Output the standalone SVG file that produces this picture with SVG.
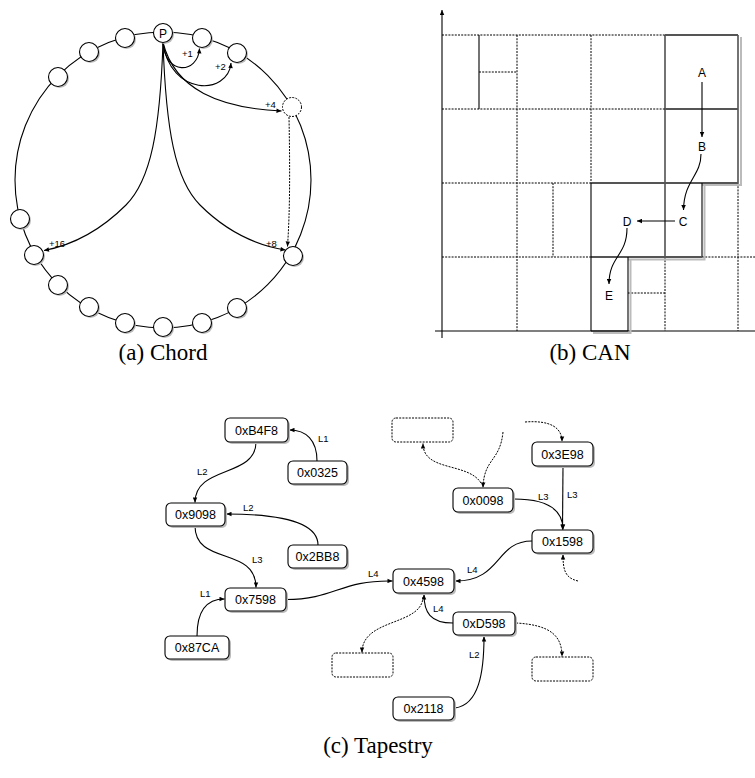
<svg xmlns="http://www.w3.org/2000/svg" width="755" height="778" viewBox="0 0 755 778">
<defs>
<marker id="ah" viewBox="0 0 10 10" refX="10" refY="5" markerWidth="6" markerHeight="5" orient="auto" markerUnits="userSpaceOnUse"><path d="M0,0.5 L10,5 L0,9.5 z" fill="#000"/></marker>
</defs>
<style>
.ring{fill:none;stroke:#000;stroke-width:1.1}
.cn circle.s{fill:#bbb;stroke:none}
.cn circle.f{fill:#fff;stroke:#000;stroke-width:1.1}
.cn circle.d{fill:#fff;stroke:#000;stroke-width:1;stroke-dasharray:2 1.2}
.e{fill:none;stroke:#000;stroke-width:1.1;marker-end:url(#ah)}
.ed{fill:none;stroke:#000;stroke-width:1;stroke-dasharray:2 1.2;marker-end:url(#ah)}
.dot{fill:none;stroke:#000;stroke-width:1;stroke-dasharray:2 1.2}
.sol{fill:none;stroke:#000;stroke-width:1.1}
.dk{fill:none;stroke:#555;stroke-width:1.8}
.sh{fill:none;stroke:#bbb;stroke-width:2}
.lbl{font-family:"Liberation Sans",Arial,sans-serif;font-size:9.5px;fill:#000}
.cl{font-family:"Liberation Sans",Arial,sans-serif;font-size:12px;fill:#000;text-anchor:middle}
.cap{font-family:"Liberation Serif","Times New Roman",serif;font-size:23px;fill:#000;text-anchor:middle}
.tn rect.s{fill:#bbb;stroke:none}
.tn rect.f{fill:#fff;stroke:#000;stroke-width:1.1}
.tn text{font-family:"Liberation Sans",Arial,sans-serif;font-size:12.5px;fill:#000;text-anchor:middle}
.db{fill:#fff;stroke:#000;stroke-width:1;stroke-dasharray:2 1.2}
</style>

<!-- (a) Chord -->
<g id="chord">
<circle class="ring" cx="163" cy="180" r="148"/>
<g id="chord-connectors">
<path class="e" d="M163,42.5 C165,76 198,74 199.5,48.5"/>
<path class="e" d="M163,42.5 C170,96 228,96 231,63"/>
<path class="e" d="M163,42.5 C175,90 220,108 281.5,111"/>
<path class="e" d="M163,42.5 C166,130 175,180 200,205 C225,230 255,245 285.5,250"/>
<path class="e" d="M163,42.5 C160,130 151,180 126,205 C101,230 73,245 44,250.5"/>
<path class="ed" d="M289,117 C290,170 290,210 287.5,246.5"/>
</g>
<g id="n-P" class="cn"><circle class="s" cx="164.5" cy="34.5" r="9.5"/><circle class="f" cx="163" cy="33" r="9.5"/><text x="163" y="37.5" class="cl" style="font-size:12px">P</text></g>
<g id="n-r1" class="cn"><circle class="s" cx="203.5" cy="39.5" r="9.5"/><circle class="f" cx="202" cy="38" r="9.5"/></g>
<g id="n-r2" class="cn"><circle class="s" cx="238.5" cy="54.5" r="9.5"/><circle class="f" cx="237" cy="53" r="9.5"/></g>
<g id="n-r4" class="cn"><circle class="d" cx="292" cy="107" r="9.5"/></g>
<g id="n-r8" class="cn"><circle class="s" cx="294.5" cy="257.5" r="9.5"/><circle class="f" cx="293" cy="256" r="9.5"/></g>
<g id="n-b1" class="cn"><circle class="s" cx="238.5" cy="309.5" r="9.5"/><circle class="f" cx="237" cy="308" r="9.5"/></g>
<g id="n-b2" class="cn"><circle class="s" cx="203.5" cy="324.5" r="9.5"/><circle class="f" cx="202" cy="323" r="9.5"/></g>
<g id="n-b3" class="cn"><circle class="s" cx="164.5" cy="328.5" r="9.5"/><circle class="f" cx="163" cy="327" r="9.5"/></g>
<g id="n-b4" class="cn"><circle class="s" cx="126.5" cy="324.5" r="9.5"/><circle class="f" cx="125" cy="323" r="9.5"/></g>
<g id="n-b5" class="cn"><circle class="s" cx="90.5" cy="308.5" r="9.5"/><circle class="f" cx="89" cy="307" r="9.5"/></g>
<g id="n-b6" class="cn"><circle class="s" cx="59.5" cy="286.5" r="9.5"/><circle class="f" cx="58" cy="285" r="9.5"/></g>
<g id="n-l16" class="cn"><circle class="s" cx="35.5" cy="256.5" r="9.5"/><circle class="f" cx="34" cy="255" r="9.5"/></g>
<g id="n-l1" class="cn"><circle class="s" cx="21.5" cy="220.5" r="9.5"/><circle class="f" cx="20" cy="219" r="9.5"/></g>
<g id="n-t1" class="cn"><circle class="s" cx="59.5" cy="78.5" r="9.5"/><circle class="f" cx="58" cy="77" r="9.5"/></g>
<g id="n-t2" class="cn"><circle class="s" cx="90.5" cy="53.5" r="9.5"/><circle class="f" cx="89" cy="52" r="9.5"/></g>
<g id="n-t3" class="cn"><circle class="s" cx="126.5" cy="39.5" r="9.5"/><circle class="f" cx="125" cy="38" r="9.5"/></g>
<text class="lbl" x="182" y="57">+1</text>
<text class="lbl" x="215" y="70">+2</text>
<text class="lbl" x="265" y="108">+4</text>
<text class="lbl" x="266" y="247">+8</text>
<text class="lbl" x="49" y="247">+16</text>
</g>
<text class="cap" x="163" y="360">(a) Chord</text>

<!-- (b) CAN -->
<g id="can">
<line class="sol" x1="442" y1="338" x2="442" y2="10" marker-end="url(#ah)"/>
<line class="sol" x1="435" y1="331" x2="755" y2="331"/>
<g id="can-grid">
<line class="dot" x1="442" y1="35" x2="665" y2="35"/>
<line class="dot" x1="442" y1="109" x2="665" y2="109"/>
<line class="dot" x1="479" y1="72" x2="517" y2="72"/>
<line class="dot" x1="442" y1="183" x2="591" y2="183"/>
<line class="dot" x1="442" y1="257" x2="591" y2="257"/>
<line class="dot" x1="702" y1="257" x2="755" y2="257"/>
<line class="dot" x1="628" y1="293" x2="665" y2="293"/>
<line class="sol" x1="479" y1="35" x2="479" y2="109"/>
<line class="dot" x1="517" y1="35" x2="517" y2="331"/>
<line class="dot" x1="591" y1="35" x2="591" y2="183"/>
<line class="dot" x1="553" y1="183" x2="553" y2="257"/>
<line class="dot" x1="665" y1="257" x2="665" y2="331"/>
<line class="dot" x1="738" y1="183" x2="738" y2="331"/>
</g>
<g id="zone-AB">
<polyline class="sh" points="741,37 741,185 702,185"/>
<line class="sol" x1="665" y1="35" x2="665" y2="257"/>
<line class="sol" x1="738" y1="35" x2="738" y2="183"/>
<line class="dk" x1="665" y1="35" x2="738" y2="35"/>
<line class="dk" x1="665" y1="109" x2="738" y2="109"/>
</g>
<g id="zone-C">
<polyline class="sh" points="704.5,185 704.5,259.5 628,259.5"/>
<line class="dk" x1="591" y1="183" x2="738" y2="183"/>
<line class="sol" x1="702" y1="183" x2="702" y2="257"/>
<line class="dk" x1="591" y1="257" x2="702" y2="257"/>
</g>
<g id="zone-E">
<polyline class="sh" points="630.5,259 630.5,333 593,333"/>
<line class="sol" x1="591" y1="183" x2="591" y2="331"/>
<line class="sol" x1="628" y1="257" x2="628" y2="331"/>
<line class="sol" x1="591" y1="331" x2="628" y2="331"/>
</g>
<g id="can-connectors">
<path class="e" d="M702,82 L702,137"/>
<path class="e" d="M701,154 C701,176 684,180 683.5,210"/>
<path class="e" d="M675,221 L637,221"/>
<path class="e" d="M627,228 C627,256 609,256 609,284"/>
</g>
<text class="cl" x="702" y="77">A</text>
<text class="cl" x="702" y="151">B</text>
<text class="cl" x="683" y="226">C</text>
<text class="cl" x="627" y="226">D</text>
<text class="cl" x="609" y="300">E</text>
</g>
<text class="cap" x="590" y="360">(b) CAN</text>

<!-- (c) Tapestry -->
<g id="tapestry-connectors">
<path class="e" d="M317,461 C317,440 306,430 289.5,430"/>
<path class="e" d="M256,442 C256,478 195,465 195,502.5"/>
<path class="e" d="M318,545 C318,520 272,514 226.5,514"/>
<path class="e" d="M195,526 C195,566 256,546 256,587.5"/>
<path class="e" d="M197,636 C197,612 205,599 224.5,599"/>
<path class="e" d="M286,599.5 C335,599.5 340,580 392.5,581"/>
<path class="e" d="M532,541 C495,541 502,581 455.5,581"/>
<path class="e" d="M453,623 C430,623 424,612 424,594.5"/>
<path class="e" d="M455,708 C479,705 484,672 484,636.5"/>
<path class="e" d="M514,499 C548,499 563,510 563,529.5"/>
<path class="e" d="M563,466 L562.5,529.5"/>
<path class="ed" d="M503,432 C500,462 484,458 483,487.5"/>
<path class="ed" d="M481,483 C468,462 423,472 423,443.5"/>
<path class="ed" d="M525,422 C551,420 562,428 562,441.5"/>
<path class="ed" d="M578,581 C565,578 563,570 563,554.5"/>
<path class="ed" d="M423,597 C422,626 362,618 362,652.5"/>
<path class="ed" d="M516,623 C551,625 562,636 562,656.5"/>
</g>
<g id="t-B4F8" class="tn"><rect class="s" x="227" y="420" width="63" height="24" rx="5"/><rect class="f" x="225" y="418" width="63" height="24" rx="5"/><text x="256.5" y="434.5">0xB4F8</text></g>
<g id="t-0325" class="tn"><rect class="s" x="290" y="463" width="59" height="23" rx="5"/><rect class="f" x="288" y="461" width="59" height="23" rx="5"/><text x="317.5" y="477">0x0325</text></g>
<g id="t-9098" class="tn"><rect class="s" x="168" y="505" width="59" height="23" rx="5"/><rect class="f" x="166" y="503" width="59" height="23" rx="5"/><text x="195.5" y="519">0x9098</text></g>
<g id="t-2BB8" class="tn"><rect class="s" x="290" y="547" width="59" height="23" rx="5"/><rect class="f" x="288" y="545" width="59" height="23" rx="5"/><text x="317.5" y="561">0x2BB8</text></g>
<g id="t-7598" class="tn"><rect class="s" x="227" y="590" width="61" height="23" rx="5"/><rect class="f" x="225" y="588" width="61" height="23" rx="5"/><text x="255.5" y="604">0x7598</text></g>
<g id="t-87CA" class="tn"><rect class="s" x="167" y="638" width="64" height="23" rx="5"/><rect class="f" x="165" y="636" width="64" height="23" rx="5"/><text x="197" y="652">0x87CA</text></g>
<g id="t-3E98" class="tn"><rect class="s" x="534" y="444" width="61" height="24" rx="5"/><rect class="f" x="532" y="442" width="61" height="24" rx="5"/><text x="562.5" y="458.5">0x3E98</text></g>
<g id="t-0098" class="tn"><rect class="s" x="455" y="490" width="60" height="24" rx="5"/><rect class="f" x="453" y="488" width="60" height="24" rx="5"/><text x="483" y="504.5">0x0098</text></g>
<g id="t-1598" class="tn"><rect class="s" x="534" y="532" width="61" height="23" rx="5"/><rect class="f" x="532" y="530" width="61" height="23" rx="5"/><text x="562.5" y="546">0x1598</text></g>
<g id="t-4598" class="tn"><rect class="s" x="395" y="571" width="61" height="24" rx="5"/><rect class="f" x="393" y="569" width="61" height="24" rx="5"/><text x="423.5" y="585.5">0x4598</text></g>
<g id="t-D598" class="tn"><rect class="s" x="455" y="614" width="62" height="23" rx="5"/><rect class="f" x="453" y="612" width="62" height="23" rx="5"/><text x="484" y="628">0xD598</text></g>
<g id="t-2118" class="tn"><rect class="s" x="395" y="699" width="61" height="23" rx="5"/><rect class="f" x="393" y="697" width="61" height="23" rx="5"/><text x="423.5" y="713">0x2118</text></g>
<g id="t-dash1"><rect class="db" x="392" y="418" width="61" height="24" rx="4"/></g>
<g id="t-dash2"><rect class="db" x="332" y="653" width="61" height="24" rx="4"/></g>
<g id="t-dash3"><rect class="db" x="532" y="657" width="61" height="24" rx="4"/></g>
<g id="tapestry-labels">
<text class="lbl" x="318" y="442">L1</text>
<text class="lbl" x="197" y="475">L2</text>
<text class="lbl" x="243" y="511">L2</text>
<text class="lbl" x="252" y="563">L3</text>
<text class="lbl" x="200" y="597">L1</text>
<text class="lbl" x="368" y="577">L4</text>
<text class="lbl" x="467" y="573">L4</text>
<text class="lbl" x="433" y="612">L4</text>
<text class="lbl" x="469" y="658">L2</text>
<text class="lbl" x="538" y="500">L3</text>
<text class="lbl" x="567" y="498">L3</text>
</g>
<text class="cap" x="378" y="753">(c) Tapestry</text>
</svg>
